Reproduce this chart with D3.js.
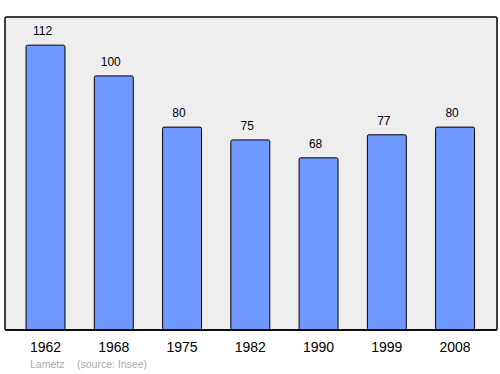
<!DOCTYPE html>
<html>
<head>
<meta charset="utf-8">
<script src="https://cdn.jsdelivr.net/npm/d3@7"></script>
<style>
  body { margin: 0; background: #fff; }
  text { font-family: "Liberation Sans", Arial, sans-serif; }
</style>
</head>
<body>
<div id="chart"></div>
<script>
const years = ['1962', '1968', '1975', '1982', '1990', '1999', '2008'];
const population = [112, 100, 80, 75, 68, 77, 80];
const sourceLabel = ['Lametz', '(source: Insee)'];

const width = 500, height = 374;
const plot = { left: 5, top: 17, right: 497, bottom: 330 };

const svg = d3.select('#chart')
  .append('svg')
  .attr('width', width)
  .attr('height', height);

// plot background
svg.append('rect')
  .attr('x', plot.left)
  .attr('y', plot.top)
  .attr('width', plot.right - plot.left)
  .attr('height', plot.bottom - plot.top)
  .attr('rx', 1.5)
  .attr('fill', '#eeeeee')
  .attr('stroke', '#000')
  .attr('stroke-width', 1.5);

const x = d3.scaleBand()
  .domain(years)
  .range([11.4, 489.2])
  .paddingInner(0.43)
  .paddingOuter(0.215);

const y = d3.scaleLinear().domain([0, 123]).range([332, 17]);

// bars
svg.selectAll('.bar')
  .data(population)
  .join('rect')
  .attr('class', 'bar')
  .attr('x', (d, i) => x(years[i]))
  .attr('width', x.bandwidth())
  .attr('y', (d) => y(d))
  .attr('height', (d) => plot.bottom - y(d))
  .attr('rx', 1.5)
  .attr('fill', '#7099ff')
  .attr('stroke', '#000')
  .attr('stroke-width', 1);

// redraw bottom border above bars
svg.append('line')
  .attr('x1', plot.left).attr('x2', plot.right)
  .attr('y1', plot.bottom).attr('y2', plot.bottom)
  .attr('stroke', '#000')
  .attr('stroke-width', 1.5);

// value labels (sit a little left of bar centre, like the original)
svg.selectAll('.val')
  .data(population)
  .join('text')
  .attr('class', 'val')
  .attr('x', (d, i) => x(years[i]) + x.bandwidth() / 2 - 3)
  .attr('y', (d) => y(d) - 10)
  .attr('text-anchor', 'middle')
  .attr('font-size', 12)
  .attr('fill', '#000')
  .text((d) => d);

// year labels
svg.selectAll('.year')
  .data(years)
  .join('text')
  .attr('class', 'year')
  .attr('x', (d) => x(d) + x.bandwidth() / 2)
  .attr('y', 352)
  .attr('text-anchor', 'middle')
  .attr('font-size', 14)
  .attr('fill', '#000')
  .text((d) => d);

// source
svg.append('text')
  .attr('x', 30)
  .attr('y', 368)
  .attr('font-size', 10.5)
  .attr('fill', '#aaaaaa')
  .text(sourceLabel[0]);

svg.append('text')
  .attr('x', 77)
  .attr('y', 368)
  .attr('font-size', 10.5)
  .attr('fill', '#aaaaaa')
  .text(sourceLabel[1]);
</script>
</body>
</html>
